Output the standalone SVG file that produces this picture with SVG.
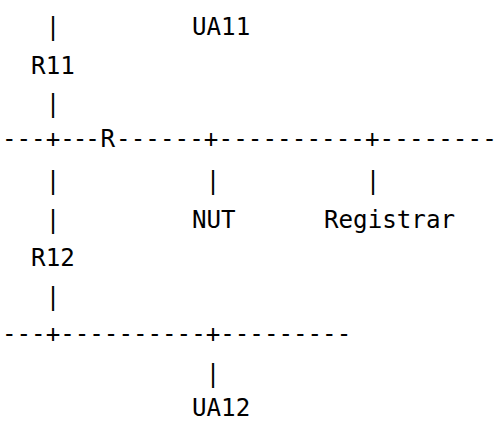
<svg xmlns="http://www.w3.org/2000/svg" width="499" height="423" viewBox="0 0 499 423">
<style>
text{font-family:"DejaVu Sans Mono","Liberation Mono",monospace;font-size:24.2px;fill:#000;}
</style>
<rect width="499" height="423" fill="#fff"/>
<g id="connectors">
<text x="45.65" y="35">|</text>
<text x="45.65" y="112">|</text>
<text x="2" y="147" textLength="58.2" lengthAdjust="spacing">---+</text>
<text x="60.2" y="147" textLength="39.5" lengthAdjust="spacing">---</text>
<text x="116" y="147" textLength="380.7" lengthAdjust="spacing">------+----------+--------</text>
<text x="45.65" y="189">|</text>
<text x="205.7" y="189">|</text>
<text x="365.75" y="189">|</text>
<text x="45.65" y="227.5">|</text>
<text x="45.65" y="304.5">|</text>
<text x="2" y="341.5" textLength="349.2" lengthAdjust="spacing">---+----------+---------</text>
<text x="205.7" y="381.5">|</text>
</g>
<g id="UA11"><text x="192" y="35">UA11</text></g>
<g id="R11"><text x="31.1" y="73.5">R11</text></g>
<g id="R"><text x="100.5" y="147">R</text></g>
<g id="NUT"><text x="192" y="227.5">NUT</text></g>
<g id="Registrar"><text x="324" y="227.5">Registrar</text></g>
<g id="R12"><text x="31.1" y="266">R12</text></g>
<g id="UA12"><text x="192" y="416">UA12</text></g>
</svg>
